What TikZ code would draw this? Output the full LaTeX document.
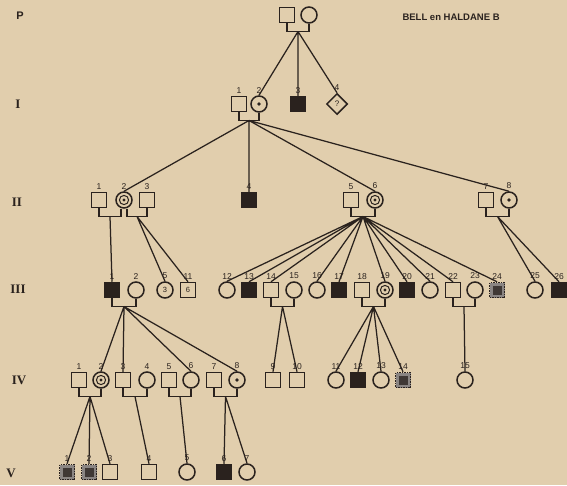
\documentclass[tikz,border=0pt]{standalone}
\usepackage{fontspec}
\setmainfont{Liberation Sans}
\newfontfamily\genfont{Liberation Serif}
\usetikzlibrary{calc,shapes.geometric}

\definecolor{paper}{RGB}{225,206,173}
\definecolor{ink}{RGB}{42,34,30}

% a couple: feet down from both partners, joined, with the middle named #3
\newcommand\couple[3]{\draw[tie] (#1) |- ($(#1)!.5!(#2)+(0,8)$) coordinate (#3) -| (#2);}

\tikzset{
  person/.style={draw=ink, line width=1.5pt, inner sep=0pt, text=ink},
  male/.style={person, rectangle, minimum size=15pt},
  female/.style={person, circle, minimum size=16pt},
  ill/.style={male, fill=ink},
  carrier/.style={female, path picture={\fill[ink] (path picture bounding box.center) circle (1.8pt);}},
  twice/.style={female, path picture={
      \draw[ink, line width=1pt] (path picture bounding box.center) circle (4.6pt);
      \fill[ink] (path picture bounding box.center) circle (1.6pt);}},
  spotted/.style={male, densely dotted, fill=ink!55, path picture={
      \fill[ink!90] ($(path picture bounding box.center)+(-4.5,-4.5)$) rectangle ++(9,9);}},
  num/.style={font=\fontsize{8.5}{8.5}\selectfont, text=ink, inner sep=1pt},
  gen/.style={font=\genfont\bfseries\fontsize{13}{13}\selectfont, text=ink},
  tie/.style={draw=ink, line width=1.25pt},
}

\begin{document}
\begin{tikzpicture}[x=1pt, y=-1pt, label distance=1pt, every label/.style={num}]
  \fill[paper] (0,0) rectangle (567,485);
  \useasboundingbox (0,0) rectangle (567,485);

  % generations
  \node[gen, font=\bfseries\fontsize{11}{11}\selectfont] (gP) at (20,16) {P};
  \node[gen] (gI) at (18,104) {I};
  \node[gen] (gII) at (17,202) {II};
  \node[gen] (gIII) at (18,289) {III};
  \node[gen] (gIV) at (19,380) {IV};
  \node[gen] (gV) at (11,473) {V};
  \node[anchor=west, text=ink, font=\bfseries\fontsize{9.5}{9.5}\selectfont] (title) at (399,17) {BELL en HALDANE B};

  % P
  \node[male] (P1) at (287,15) {};
  \node[female] (P2) at (309,15) {};
  % I
  \node[male, label=1] (I1) at (239,104) {};
  \node[carrier, label=2] (I2) at (259,104) {};
  \node[ill, label=3] (I3) at (298,104) {};
  \node[person, diamond, minimum size=21pt, font=\fontsize{8}{8}\selectfont, label=4] (I4) at (337,104) {?};
  % II
  \node[male, label=1] (II1) at (99,200) {};
  \node[twice, label=2] (II2) at (124,200) {};
  \node[male, label=3] (II3) at (147,200) {};
  \node[ill, label=4] (II4) at (249,200) {};
  \node[male, label=5] (II5) at (351,200) {};
  \node[twice, label=6] (II6) at (375,200) {};
  \node[male, label=7] (II7) at (486,200) {};
  \node[carrier, label=8] (II8) at (509,200) {};
  % III
  \node[ill, label=1] (III1) at (112,290) {};
  \node[female, label=2] (III2) at (136,290) {};
  \node[female, font=\fontsize{7.5}{7.5}\selectfont, label=5] (III5) at (165,290) {3};
  \node[male, font=\fontsize{7.5}{7.5}\selectfont, label=11] (III11) at (188,290) {6};
  \node[female, label=12] (III12) at (227,290) {};
  \node[ill, label=13] (III13) at (249,290) {};
  \node[male, label=14] (III14) at (271,290) {};
  \node[female, label=15] (III15) at (294,290) {};
  \node[female, label=16] (III16) at (317,290) {};
  \node[ill, label=17] (III17) at (339,290) {};
  \node[male, label=18] (III18) at (362,290) {};
  \node[twice, label=19] (III19) at (385,290) {};
  \node[ill, label=20] (III20) at (407,290) {};
  \node[female, label=21] (III21) at (430,290) {};
  \node[male, label=22] (III22) at (453,290) {};
  \node[female, label=23] (III23) at (475,290) {};
  \node[spotted, label=24] (III24) at (497,290) {};
  \node[female, label=25] (III25) at (535,290) {};
  \node[ill, label=26] (III26) at (559,290) {};
  % IV
  \node[male, label=1] (IV1) at (79,380) {};
  \node[twice, label=2] (IV2) at (101,380) {};
  \node[male, label=3] (IV3) at (123,380) {};
  \node[female, label=4] (IV4) at (147,380) {};
  \node[male, label=5] (IV5) at (169,380) {};
  \node[female, label=6] (IV6) at (191,380) {};
  \node[male, label=7] (IV7) at (214,380) {};
  \node[carrier, label=8] (IV8) at (237,380) {};
  \node[male, label=9] (IV9) at (273,380) {};
  \node[male, label=10] (IV10) at (297,380) {};
  \node[female, label=11] (IV11) at (336,380) {};
  \node[ill, label=12] (IV12) at (358,380) {};
  \node[female, label=13] (IV13) at (381,380) {};
  \node[spotted, label=14] (IV14) at (403,380) {};
  \node[female, label=15] (IV15) at (465,380) {};
  % V
  \node[spotted, label=1] (V1) at (67,472) {};
  \node[spotted, label=2] (V2) at (89,472) {};
  \node[male, label=3] (V3) at (110,472) {};
  \node[male, label=4] (V4) at (149,472) {};
  \node[female, label=5] (V5) at (187,472) {};
  \node[ill, label=6] (V6) at (224,472) {};
  \node[female, label=7] (V7) at (247,472) {};

  % marriages
  \couple{P1.south}{P2.south}{Pm}
  \couple{I1.south}{I2.south}{Im}
  \coordinate (II2l) at ($(II2.south)+(-3,0)$);
  \coordinate (II2r) at ($(II2.south)+(3,0)$);
  \couple{II1.south}{II2l}{IIa}
  \couple{II2r}{II3.south}{IIb}
  \couple{II5.south}{II6.south}{IIc}
  \couple{II7.south}{II8.south}{IId}
  \couple{III1.south}{III2.south}{IIIa}
  \couple{III14.south}{III15.south}{IIIb}
  \couple{III18.south}{III19.south}{IIIc}
  \couple{III22.south}{III23.south}{IIId}
  \couple{IV1.south}{IV2.south}{IVa}
  \couple{IV3.south}{IV4.south}{IVb}
  \couple{IV5.south}{IV6.south}{IVc}
  \couple{IV7.south}{IV8.south}{IVd}

  % descent
  \draw[tie] (Pm) -- (I2.north) (Pm) -- (I3.north) (Pm) -- (I4.north);
  \draw[tie] (Im) -- (II2.north) (Im) -- (II4.north) (Im) -- (II6.north) (Im) -- (II8.north);
  \draw[tie] (IIa) -- (III1.north);
  \draw[tie] (IIb) -- (III5.north) (IIb) -- (III11.north);
  \draw[tie] (IIc) -- (III12.north) (IIc) -- (III13.north) (IIc) -- (III14.north)
             (IIc) -- (III16.north) (IIc) -- (III17.north) (IIc) -- (III19.north)
             (IIc) -- (III20.north) (IIc) -- (III21.north) (IIc) -- (III22.north)
             (IIc) -- (III24.north);
  \draw[tie] (IId) -- (III25.north) (IId) -- (III26.north);
  \draw[tie] (IIIa) -- (IV2.north) (IIIa) -- (IV3.north) (IIIa) -- (IV6.north) (IIIa) -- (IV8.north);
  \draw[tie] (IIIb) -- (IV9.north) (IIIb) -- (IV10.north);
  \draw[tie] (IIIc) -- (IV11.north) (IIIc) -- (IV12.north) (IIIc) -- (IV13.north) (IIIc) -- (IV14.north);
  \draw[tie] (IIId) -- (IV15.north);
  \draw[tie] (IVa) -- (V1.north) (IVa) -- (V2.north) (IVa) -- (V3.north);
  \draw[tie] (IVb) -- (V4.north);
  \draw[tie] (IVc) -- (V5.north);
  \draw[tie] (IVd) -- (V6.north) (IVd) -- (V7.north);
\end{tikzpicture}
\end{document}
